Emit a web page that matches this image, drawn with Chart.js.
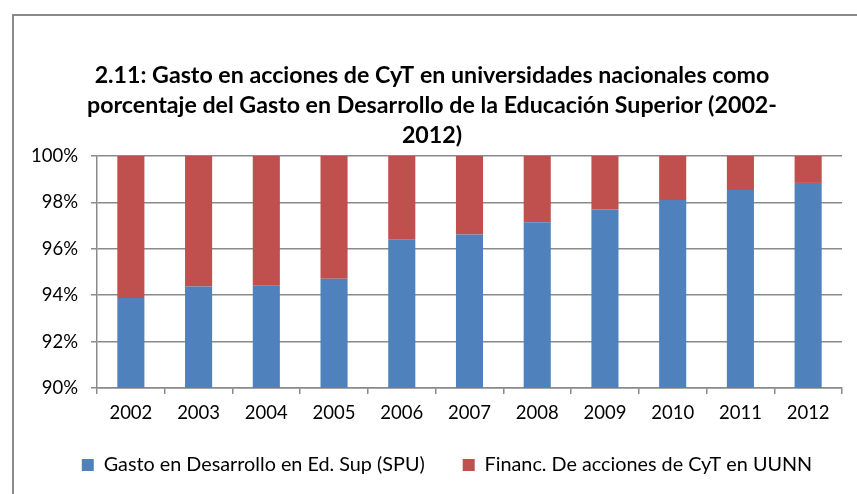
<!DOCTYPE html>
<html><head><meta charset="utf-8">
<script src="https://cdn.jsdelivr.net/npm/chart.js@4/dist/chart.umd.min.js"></script>
<style>
html,body{margin:0;padding:0;background:#fff;}
#wrap{position:relative;width:857px;height:494px;overflow:hidden;}
#frame{position:absolute;left:12px;top:14px;width:900px;height:600px;border-top:2px solid #8a8a8a;border-left:2px solid #8a8a8a;box-sizing:border-box;}
canvas{position:absolute;left:0;top:0;}
</style></head>
<body><div id="wrap"><div id="frame"></div><canvas id="c" width="857" height="494"></canvas></div>
<script>
const categories = ['2002','2003','2004','2005','2006','2007','2008','2009','2010','2011','2012'];
const gastoDesarrollo = [93.88, 94.38, 94.41, 94.71, 96.39, 96.62, 97.14, 97.69, 98.10, 98.53, 98.84];
const financCyT = [6.12, 5.62, 5.59, 5.29, 3.61, 3.38, 2.86, 2.31, 1.90, 1.47, 1.16];
const seriesNames = ['Gasto en Desarrollo en Ed. Sup (SPU)', 'Financ. De acciones de CyT en UUNN'];
const titleLines = ['2.11: Gasto en acciones de CyT en universidades nacionales como', 'porcentaje del Gasto en Desarrollo de la Educación Superior (2002-', '2012)'];

const FONT = "Lato, 'Open Sans', sans-serif";
const mctx = document.createElement('canvas').getContext('2d');
function fit(text, weight, target) {
  mctx.font = weight + ' 100px ' + FONT;
  return Math.round(100 * target / mctx.measureText(text).width * 10) / 10;
}
const titleSize = fit(titleLines[1], 'bold', 690);
const tickSize = fit('100%', 'normal', 47);
const legendSize = fit(seriesNames[0], 'normal', 321);
const LEG_PAD = 38;

Chart.defaults.font.family = FONT;
Chart.defaults.color = '#000';

const placeBoxes = {
  id: 'placeBoxes',
  beforeLayout(chart) {
    const L = chart.legend;
    if (L && !L._patched) {
      const f = L.fit;
      L.fit = function () { f.call(this); this.height -= 6; };
      L._patched = true;
    }
  },
  afterLayout(chart) {
    const t = chart.titleBlock;
    if (t) { const dx = 432 - (t.left + t.right) / 2; t.left += dx; t.right += dx; }
    const L = chart.legend;
    if (L) {
      const dy = 465 - (L.top + LEG_PAD + legendSize / 2);
      L.top += dy; L.bottom += dy;
      const dx = 447 - (L.left + L.right) / 2;
      L.left += dx; L.right += dx;
    }
  }
};

new Chart(document.getElementById('c'), {
  type: 'bar',
  data: {
    labels: categories,
    datasets: [
      {label: seriesNames[0], data: gastoDesarrollo, backgroundColor: '#4F81BD', categoryPercentage: 1, barPercentage: 0.4},
      {label: seriesNames[1], data: financCyT, backgroundColor: '#C0504D', categoryPercentage: 1, barPercentage: 0.4}
    ]
  },
  plugins: [placeBoxes],
  options: {
    responsive: false,
    animation: false,
    layout: {padding: {left: 0, right: 15, top: 0, bottom: 0}},
    plugins: {
      title: {display: true, text: titleLines, font: {size: titleSize, weight: 'bold', family: FONT, lineHeight: '30px'}, color: '#000', padding: {top: 61, bottom: 5}},
      legend: {position: 'bottom', labels: {boxWidth: 12, boxHeight: 12, font: {size: legendSize}, padding: LEG_PAD, color: '#000'}},
      tooltip: {enabled: false}
    },
    scales: {
      x: {
        stacked: true,
        grid: {display: true, drawOnChartArea: false, offset: true, color: '#8a8a8a', lineWidth: 1.5, tickLength: 6},
        border: {color: '#8a8a8a', width: 1.5},
        ticks: {font: {size: tickSize}, padding: 8, color: '#000'}
      },
      y: {
        stacked: true, min: 90, max: 100,
        afterFit: (s) => { s.width = 97; },
        grid: {color: '#8a8a8a', lineWidth: 1.5, tickLength: 6},
        border: {color: '#8a8a8a', width: 1.5},
        ticks: {stepSize: 2, font: {size: tickSize}, padding: 13, color: '#000', callback: v => v + '%'}
      }
    }
  }
});
</script></body></html>
